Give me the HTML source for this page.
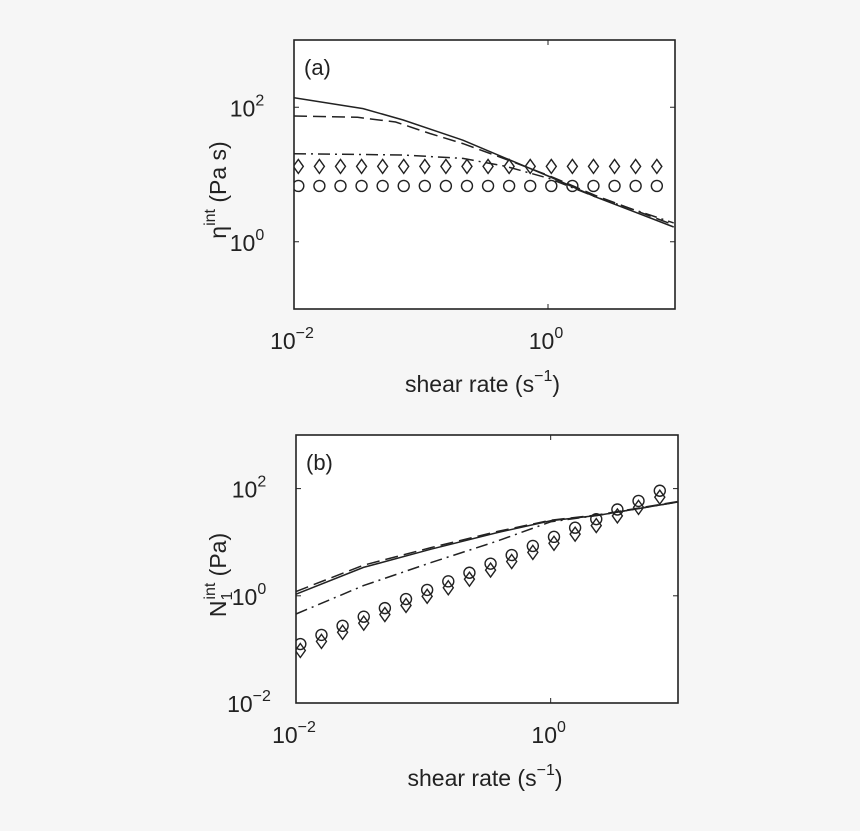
<!DOCTYPE html>
<html><head><meta charset="utf-8"><style>
html,body{margin:0;padding:0;background:#f6f6f6;}
svg{display:block;font-family:"Liberation Sans",sans-serif;}
</style></head><body>
<svg id="fig" width="860" height="831" viewBox="0 0 860 831"></svg>
<script>
// ---- data (log10 values) ----
const markerX = [-1.966,-1.800,-1.634,-1.468,-1.302,-1.136,-0.970,-0.804,-0.638,-0.472,-0.306,-0.140,0.026,0.192,0.358,0.524,0.690,0.857];
// panel (a) viscosity
const aSolidX = [-2,-1.456,-1.14,-0.67,-0.33,0.01,0.37,0.99];
const aSolidY = [2.14,1.98,1.81,1.51,1.24,0.97,0.67,0.22];
const aDashX = [-2,-1.5,-1.2,-0.93,-0.67,-0.35,0.01,0.37,0.99];
const aDashY = [1.87,1.85,1.78,1.61,1.46,1.24,0.98,0.69,0.25];
const aDotX = [-2,-1.14,-0.67,-0.33,0.01,0.37,0.99];
const aDotY = [1.31,1.29,1.24,1.12,0.94,0.67,0.28];
const aDiamond = [1.12,1.12,1.12,1.12,1.12,1.12,1.12,1.12,1.12,1.12,1.12,1.12,1.12,1.12,1.12,1.12,1.12,1.12];
const aCircle = [0.83,0.83,0.83,0.83,0.83,0.83,0.83,0.83,0.83,0.83,0.83,0.83,0.83,0.83,0.83,0.83,0.83,0.83];
// panel (b) first normal stress
const bSolidX = [-2,-1.47,-0.94,-0.42,0.0,0.37,1.0];
const bSolidY = [0.03,0.53,0.87,1.18,1.40,1.50,1.75];
const bDashX = [-2,-1.47,-0.94,-0.42,0.0,0.37,1.0];
const bDashY = [0.08,0.57,0.90,1.20,1.41,1.51,1.76];
const bDotX = [-2,-1.47,-0.94,-0.42,0.0,0.37,1.0];
const bDotY = [-0.34,0.19,0.62,1.02,1.38,1.50,1.75];
const bCircle = [-0.90,-0.73,-0.56,-0.39,-0.23,-0.06,0.11,0.27,0.43,0.60,0.76,0.93,1.10,1.27,1.43,1.61,1.77,1.96];
const bDiamond = [-1.02,-0.85,-0.68,-0.51,-0.35,-0.18,-0.01,0.15,0.31,0.48,0.64,0.81,0.98,1.15,1.31,1.49,1.65,1.84];

const NS="http://www.w3.org/2000/svg";
const svg=document.getElementById('fig');
function mk(tag,attrs,parent){const e=document.createElementNS(NS,tag);for(const k in attrs)e.setAttribute(k,attrs[k]);(parent||svg).appendChild(e);return e;}

function panel(p){
  const g=mk('g',{});
  
  
  const X=v=>p.x0+(v-p.xmin)/(p.xmax-p.xmin)*(p.x1-p.x0);
  const Y=v=>p.y1-(v-p.ymin)/(p.ymax-p.ymin)*(p.y1-p.y0);
  const bg=mk('rect',{x:p.x0,y:p.y0,width:p.x1-p.x0,height:p.y1-p.y0,fill:'#fff',stroke:'#222','stroke-width':1.6},g);
  
  
  // ticks
  p.xt.forEach(t=>{const x=X(t);
    mk('line',{x1:x,x2:x,y1:p.y1,y2:p.y1-5,stroke:'#222'},g);
    mk('line',{x1:x,x2:x,y1:p.y0,y2:p.y0+5,stroke:'#222'},g);
    const tx=mk('text',{x:x-2,y:p.y1+40,'font-size':23,'text-anchor':'middle',fill:'#222'},g);
    
    
    tx.innerHTML='10<tspan dy="-11" font-size="16">'+(t<0?'\u22122':t)+'</tspan>';
  });
  p.yt.forEach(t=>{const y=Y(t);
    mk('line',{x1:p.x0,x2:p.x0+5,y1:y,y2:y,stroke:'#222'},g);
    mk('line',{x1:p.x1,x2:p.x1-5,y1:y,y2:y,stroke:'#222'},g);
    const tx=mk('text',{x:p.x0-47,y:y+9,'font-size':23,'text-anchor':'middle',fill:'#222'},g);
    
    
    tx.innerHTML='10<tspan dy="-11" font-size="16">'+(t<0?'\u22122':t)+'</tspan>';
  });
  const cp=mk('clipPath',{id:'c'+p.name},g);
  mk('rect',{x:p.x0,y:p.y0,width:p.x1-p.x0,height:p.y1-p.y0},cp);
  const pg=mk('g',{'clip-path':'url(#c'+p.name+')'},g);
  function line(xs,ys,dash,name){
    const d=xs.map((v,i)=>(i?'L':'M')+X(v).toFixed(1)+' '+Y(ys[i]).toFixed(1)).join(' ');
    const e=mk('path',{d:d,fill:'none',stroke:'#222','stroke-width':1.5,'stroke-dasharray':dash},pg);
    
    
  }
  line(p.sx,p.sy,'none','solid-curve');
  line(p.dx,p.dy,'13 6','dashed-curve');
  line(p.ox,p.oy,'12 5 2 5','dash-dot-curve');
  markerX.forEach((v,i)=>{
    const x=X(v),yd=Y(p.dia[i]),yc=Y(p.cir[i]);
    const dm=mk('path',{d:`M${x} ${yd-7} L${x+5} ${yd} L${x} ${yd+7} L${x-5} ${yd} Z`,fill:'none',stroke:'#222','stroke-width':1.4},pg);
    
    
    const c=mk('circle',{cx:x,cy:yc,r:5.5,fill:'none',stroke:'#222','stroke-width':1.4},pg);
    
    
  });
  const pl=mk('text',{x:p.x0+10,y:p.y0+35,'font-size':22,fill:'#222'},g);
  
  
  pl.textContent=p.label;
  const xl=mk('text',{x:(p.x0+p.x1)/2-2,y:p.y1+83,'font-size':23,'text-anchor':'middle',fill:'#222'},g);
  
  
  xl.innerHTML='shear rate (s<tspan dy="-11" font-size="16">\u22121</tspan><tspan dy="11">)</tspan>';
  const yl=mk('text',{x:0,y:0,'font-size':23,'text-anchor':'middle',fill:'#222',transform:`translate(${p.ylx},${p.yly}) rotate(-90)`},g);
  
  
  yl.innerHTML=p.ytitle;
}
panel({name:'panel-a',x0:294,x1:675,y0:40,y1:309,xmin:-2,xmax:1,ymin:-1,ymax:3,xt:[-2,0],yt:[0,2],
  sx:aSolidX,sy:aSolidY,dx:aDashX,dy:aDashY,ox:aDotX,oy:aDotY,dia:aDiamond,cir:aCircle,label:'(a)',
  ylx:226,yly:190,ytitle:'\u03b7<tspan dy="-11" font-size="16">int</tspan><tspan dy="11"> (Pa s)</tspan>'});
panel({name:'panel-b',x0:296,x1:678,y0:435,y1:703,xmin:-2,xmax:1,ymin:-2,ymax:3,xt:[-2,0],yt:[-2,0,2],
  sx:bSolidX,sy:bSolidY,dx:bDashX,dy:bDashY,ox:bDotX,oy:bDotY,dia:bDiamond,cir:bCircle,label:'(b)',
  ylx:226,yly:575,ytitle:'N<tspan dy="6" font-size="16">1</tspan><tspan dy="-17" dx="-8" font-size="16">int</tspan><tspan dy="11"> (Pa)</tspan>'});
</script>
</body></html>
